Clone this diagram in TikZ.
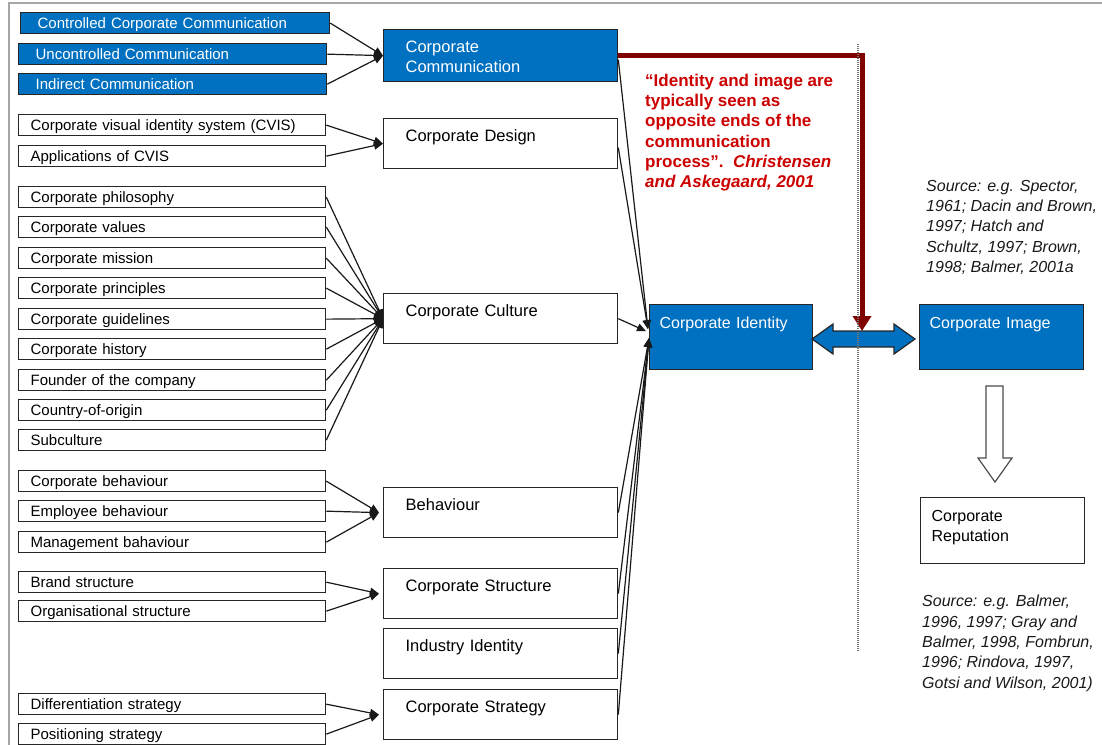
\documentclass[tikz,border=0pt]{standalone}
\usepackage{fontspec}
\setmainfont{Liberation Sans}
\usetikzlibrary{arrows.meta,calc}

\definecolor{cblue}{HTML}{0070C0}
\definecolor{edge}{HTML}{262626}
\definecolor{darkred}{HTML}{800000}
\definecolor{quotered}{HTML}{CC0000}
\definecolor{framegray}{HTML}{A6A6A6}

\newcommand\boxfontL{\fontsize{15}{18}\selectfont}
\newcommand\boxfontM{\fontsize{16.5}{20}\selectfont}
\newcommand\quotefont{\fontsize{17}{20.2}\selectfont\bfseries}
\newcommand\srcfont{\fontsize{16}{20.3}\selectfont\itshape}

\tikzset{
  lbox/.style={draw=edge, line width=1.3pt, fill=white, anchor=north west,
    minimum height=21pt, inner xsep=12pt, inner ysep=0pt, text width=283pt,
    align=left, font=\boxfontL, text height=11pt, text depth=1pt},
  lblue/.style={lbox, fill=cblue, text=white, inner xsep=17pt, text width=274pt},
  mbox/.style={draw=edge, line width=1.3pt, fill=white, anchor=north west,
    inner xsep=22pt, inner ysep=0pt, text width=190pt, align=left,
    font=\boxfontM, text height=23pt, text depth=27pt},
  mblue/.style={mbox, fill=cblue, text=white, text depth=29pt},
  rbox/.style={draw=edge, line width=1.3pt, anchor=north west, inner xsep=10pt,
    inner ysep=0pt, text width=144pt, align=left, font=\fontsize{16}{20}\selectfont,
    text height=24pt, text depth=41pt},
  conn/.style={line width=1.2pt, draw=black!90, -{Triangle[length=9pt,width=8pt]}},
  srcnote/.style={anchor=north west, inner sep=0pt, align=left, font=\srcfont, text=black!90},
}

\begin{document}
\begin{tikzpicture}[x=1pt,y=-1pt]
\useasboundingbox (0,0) rectangle (1102,744);
\clip (0,0) rectangle (1102,744);

% frame
\draw[framegray, line width=2pt] (9,745) -- (9,3) -- (1103,3);

% left column: communication
\node[lblue, text width=275pt] (c1) at (20,12) {Controlled Corporate Communication};
\node[lblue] (c2) at (18,43) {Uncontrolled Communication};
\node[lblue] (c3) at (18,73) {Indirect Communication};
% design
\node[lbox] (d1) at (18,114) {Corporate visual identity system (CVIS)};
\node[lbox] (d2) at (18,145) {Applications of CVIS};
% culture
\node[lbox] (u1) at (18,186) {Corporate philosophy};
\node[lbox] (u2) at (18,216) {Corporate values};
\node[lbox] (u3) at (18,247) {Corporate mission};
\node[lbox] (u4) at (18,277) {Corporate principles};
\node[lbox] (u5) at (18,308) {Corporate guidelines};
\node[lbox] (u6) at (18,338) {Corporate history};
\node[lbox] (u7) at (18,369) {Founder of the company};
\node[lbox] (u8) at (18,399) {Country-of-origin};
\node[lbox] (u9) at (18,429) {Subculture};
% behaviour
\node[lbox] (b1) at (18,470) {Corporate behaviour};
\node[lbox] (b2) at (18,500) {Employee behaviour};
\node[lbox] (b3) at (18,531) {Management bahaviour};
% structure
\node[lbox] (s1) at (18,571) {Brand structure};
\node[lbox] (s2) at (18,600) {Organisational structure};
% strategy
\node[lbox] (t1) at (18,693) {Differentiation strategy};
\node[lbox] (t2) at (18,723) {Positioning strategy};

% middle column
\node[mblue] (cc) at (383,29) {Corporate\\Communication};
\node[mbox] (cd) at (383,118) {Corporate Design};
\node[mbox] (cu) at (383,293) {Corporate Culture};
\node[mbox] (bh) at (383,487) {Behaviour};
\node[mbox] (cs) at (383,568) {Corporate Structure};
\node[mbox] (ii) at (383,628) {Industry Identity};
\node[mbox] (cst) at (383,689) {Corporate Strategy};

% right part
\node[rbox, fill=cblue, text=white, text width=143pt] (ci) at (649,304) {Corporate Identity};
\node[rbox, fill=cblue, text=white] (cim) at (919,304) {Corporate Image};
\node[rbox, fill=white, inner xsep=11pt, text width=142pt, text depth=42pt] (cr) at (920,497) {Corporate\\Reputation};

% connectors into the middle column
\foreach \s in {c1,c2,c3} \draw[conn] (\s.east) -- (cc.west);
\foreach \s in {d1,d2} \draw[conn] (\s.east) -- (cd.west);
\foreach \s in {u1,u2,u3,u4,u5,u6,u7,u8,u9} \draw[conn] (\s.east) -- (cu.west);
\foreach \s in {b1,b2,b3} \draw[conn] (\s.east) -- ([xshift=-4pt]bh.west);
\foreach \s in {s1,s2} \draw[conn] (\s.east) -- ([xshift=-4pt]cs.west);
\foreach \s in {t1,t2} \draw[conn] (\s.east) -- ([xshift=-4pt]cst.west);

% connectors into Corporate Identity
\coordinate (ciU) at ($(ci.west)+(-1,-8)$);
\coordinate (ciL) at ($(ci.west)+(0,1)$);
\foreach \s in {cc,cd} \draw[conn] ($(\s.east)+(0,4)$) -- (ciU);
\draw[conn] (cu.east) -- ($(ci.west)+(-3,-6)$);
\foreach \s in {bh,cs,ii,cst} \draw[conn] (\s.east) -- (ciL);

% double arrow between identity and image
\coordinate (dl) at (812,339);
\coordinate (dr) at (915,339);
\filldraw[fill=cblue, draw=edge, line width=1.2pt]
  (dl) -- (833,324) -- (833,331) -- (894,331) -- (894,324) -- (dr)
  -- (894,354) -- (894,347) -- (833,347) -- (833,354) -- cycle;

% red link from corporate communication
\coordinate (redtip) at (862,331);
\draw[darkred, line width=5pt, -{Triangle[length=15pt,width=18pt]}]
  (cc.east) -| (redtip);

% dotted divider
\coordinate (dtop) at (858,44);
\coordinate (dbot) at (858,652);
\draw[black!55, line width=1.6pt, dash pattern=on 1pt off 1pt] (dtop) -- (dbot);

% hollow arrow from image to reputation
\filldraw[fill=white, draw=black!70, line width=1.2pt]
  (986,386) -- (1003,386) -- (1003,458) -- (1012,458) -- (995,482)
  -- (978,458) -- (986,458) -- cycle;

% quotation
\node[anchor=north west, inner sep=0pt, align=left, font=\quotefont, text=quotered] (q) at (645,74)
  {“Identity and image are\\typically seen as\\opposite ends of the\\communication\\process”.\ \ \textit{Christensen}\\\textit{and Askegaard, 2001}};

% sources
\node[srcnote] (src1) at (926,180)
  {Source: e.g. Spector,\\1961; Dacin and Brown,\\1997; Hatch and\\Schultz, 1997; Brown,\\1998; Balmer, 2001a};
\node[srcnote] (src2) at (922,595)
  {Source: e.g. Balmer,\\1996, 1997; Gray and\\Balmer, 1998, Fombrun,\\1996; Rindova, 1997,\\Gotsi and Wilson, 2001)};
\end{tikzpicture}
\end{document}
